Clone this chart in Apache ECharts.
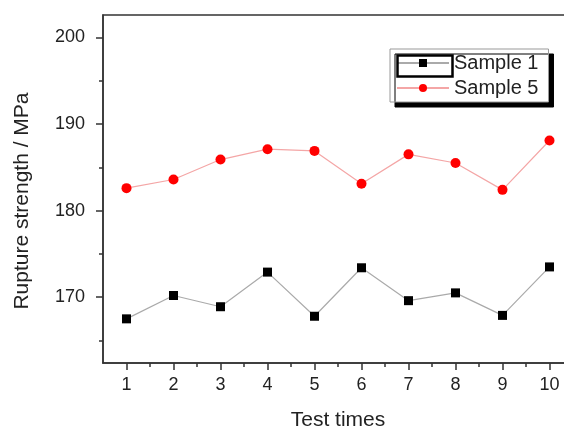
<!DOCTYPE html>
<html>
<head>
<meta charset="utf-8">
<script src="https://cdn.jsdelivr.net/npm/echarts@6/dist/echarts.min.js"></script>
<style>html,body{margin:0;padding:0;background:#fff}#c{width:564px;height:428px}</style>
</head>
<body>
<div id="c"></div>
<script>
var testTimes = [1, 2, 3, 4, 5, 6, 7, 8, 9, 10];
var sample1 = [167.5, 170.2, 168.9, 172.9, 167.8, 173.4, 169.6, 170.5, 167.9, 173.5];
var sample5 = [182.6, 183.6, 185.9, 187.1, 186.9, 183.1, 186.5, 185.5, 182.4, 188.1];
var xMajorTicks = [1, 2, 3, 4, 5, 6, 7, 8, 9, 10];
var xMinorTicks = [1.5, 2.5, 3.5, 4.5, 5.5, 6.5, 7.5, 8.5, 9.5];
var yMajorTicks = [170, 180, 190, 200];
var yMinorTicks = [165, 175, 185, 195];

var FONT = "'Liberation Sans', Arial, sans-serif";
var axisColor = '#333';
function pairs(ys) { return testTimes.map(function (x, i) { return [x, ys[i]]; }); }

var chart = echarts.init(document.getElementById('c'), null, { renderer: 'canvas' });
chart.setOption({
  animation: false,
  backgroundColor: '#fff',
  grid: { left: 103, top: 15, right: -9, bottom: 65, containLabel: false, outerBoundsMode: 'none',
          show: true, borderColor: axisColor, borderWidth: 1.5, backgroundColor: 'transparent' },
  legend: {
    left: 390, top: 49, orient: 'vertical',
    padding: [4, 10, 4, 6], itemGap: 5, itemWidth: 52, itemHeight: 10,
    backgroundColor: '#fff', borderColor: '#999', borderWidth: 1,
    shadowColor: '#000', shadowBlur: 0, shadowOffsetX: 5, shadowOffsetY: 5,
    textStyle: { fontFamily: FONT, fontSize: 20, color: '#222', lineHeight: 20 },
    data: ['Sample 1', 'Sample 5']
  },
  xAxis: [{
    type: 'value', min: 0.5, max: 10.5, position: 'bottom',
    name: 'Test times', nameLocation: 'middle', nameGap: 47,
    nameTextStyle: { fontFamily: FONT, fontSize: 21, color: '#222' },
    axisLine: { show: true, onZero: false, lineStyle: { color: axisColor, width: 1.5 } },
    axisTick: { show: true, inside: false, length: 7, customValues: xMajorTicks, lineStyle: { color: axisColor, width: 1.5 } },
    axisLabel: { customValues: xMajorTicks, margin: 13, fontFamily: FONT, fontSize: 18, color: '#222' },
    splitLine: { show: false }
  }, {
    type: 'value', min: 0.5, max: 10.5, position: 'bottom',
    axisLine: { show: false },
    axisTick: { show: true, inside: false, length: 4, customValues: xMinorTicks, lineStyle: { color: axisColor, width: 1.5 } },
    axisLabel: { show: false },
    splitLine: { show: false }
  }],
  yAxis: [{
    type: 'value', min: 162.4, max: 202.6, position: 'left',
    name: 'Rupture strength / MPa', nameLocation: 'middle', nameGap: 70,
    nameTextStyle: { fontFamily: FONT, fontSize: 21, color: '#222', padding: [0, 24, 0, 0] },
    axisLine: { show: true, onZero: false, lineStyle: { color: axisColor, width: 1.5 } },
    axisTick: { show: true, inside: false, length: 7, customValues: yMajorTicks, lineStyle: { color: axisColor, width: 1.5 } },
    axisLabel: { customValues: yMajorTicks, margin: 18, fontFamily: FONT, fontSize: 18, color: '#222' },
    splitLine: { show: false }
  }, {
    type: 'value', min: 162.4, max: 202.6, position: 'left',
    axisLine: { show: false },
    axisTick: { show: true, inside: false, length: 4, customValues: yMinorTicks, lineStyle: { color: axisColor, width: 1.5 } },
    axisLabel: { show: false },
    splitLine: { show: false }
  }],
  graphic: [{
    type: 'rect', left: 395, top: 53, z: 100,
    shape: { width: 55, height: 21 },
    style: { fill: 'none', stroke: '#000', lineWidth: 2.5 }
  }],
  series: [{
    name: 'Sample 1', type: 'line', xAxisIndex: 0, yAxisIndex: 0,
    data: pairs(sample1),
    symbol: 'rect', symbolSize: 9,
    itemStyle: { color: '#000' },
    lineStyle: { color: '#aaa', width: 1.2 }
  }, {
    name: 'Sample 5', type: 'line', xAxisIndex: 0, yAxisIndex: 0,
    data: pairs(sample5),
    symbol: 'circle', symbolSize: 10,
    itemStyle: { color: '#f00' },
    lineStyle: { color: '#f4a6a6', width: 1.2 }
  }]
});
</script>
</body>
</html>
